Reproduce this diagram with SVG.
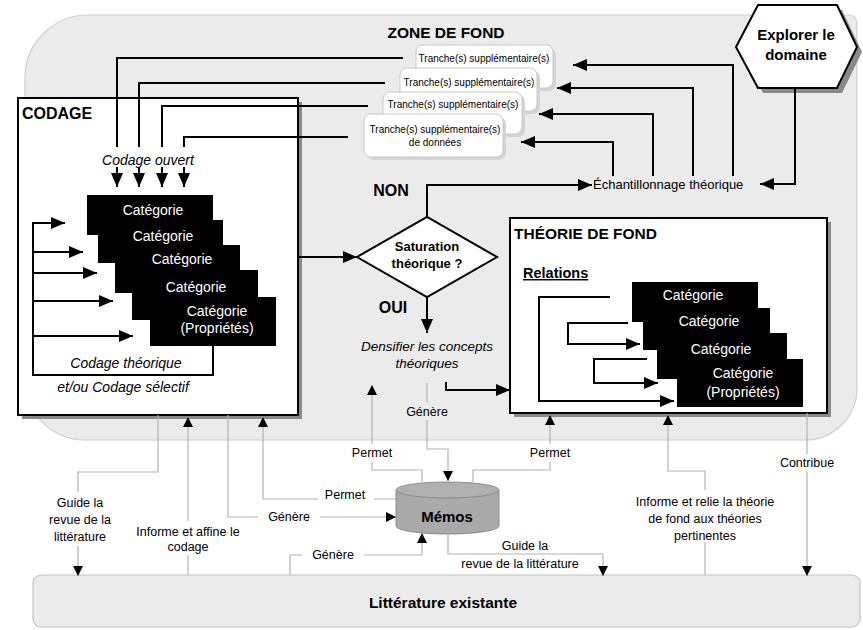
<svg xmlns="http://www.w3.org/2000/svg" width="863" height="630" viewBox="0 0 863 630">
<defs>
<marker id="ah" viewBox="0 0 14 12" refX="14" refY="6" markerWidth="14" markerHeight="12" orient="auto" markerUnits="userSpaceOnUse"><path d="M0,0 L14,6 L0,12 Z" fill="#000"/></marker>
<marker id="as" viewBox="0 0 10 10" refX="10" refY="5" markerWidth="10" markerHeight="10" orient="auto" markerUnits="userSpaceOnUse"><path d="M0,0 L10,5 L0,10 Z" fill="#000"/></marker>
<style>
text{font-family:"Liberation Sans",Arial,sans-serif;fill:#000}
.b{font-weight:bold}
.i{font-style:italic}
.c{text-anchor:middle}
.box{fill:#fff;stroke:#000;stroke-width:2}
.sh{fill:#8a8a8a}
.cat{fill:#000}
.ct{font-size:14px;fill:#fff;text-anchor:middle}
.tr{fill:#fff;stroke:#c8c8c8;stroke-width:1}
.trs{fill:#d4d4d4}
.tt{font-size:10px;text-anchor:middle}
.k{fill:none;stroke:#000;stroke-width:2}
.ka{fill:none;stroke:#000;stroke-width:2;marker-end:url(#ah)}
.g{fill:none;stroke:#b4b4b4;stroke-width:1.2;marker-end:url(#as)}
.gn{fill:none;stroke:#b4b4b4;stroke-width:1.2}
.lb{font-size:12.5px;text-anchor:middle}
.wb{fill:#fff}
.zb{fill:#ebebeb}
</style>
</defs>
<rect width="863" height="630" fill="#fff"/>
<g id="zone">
<path d="M88,15 H848 Q857,15 857,24 V388 A52,52 0 0 1 805,440 H85 A60,60 0 0 1 25,380 V78 A63,63 0 0 1 88,15 Z" fill="#ebebeb" stroke="#cfcfcf" stroke-width="1.2"/>
<text class="b c" x="446" y="38" font-size="15.5">ZONE DE FOND</text>
</g>
<g id="litterature">
<rect x="33" y="575" width="827" height="52" rx="8" fill="#ebebeb" stroke="#c4c4c4" stroke-width="1.2"/>
<text class="b c" x="443" y="608" font-size="15.5">Littérature existante</text>
</g>
<g id="explorer">
<polygon points="741,52 763,10 842,10 862,52 842,93 763,93" class="sh"/>
<polygon points="736,47 758,5 837,5 857,47 837,88 758,88" fill="#fff" stroke="#000" stroke-width="2"/>
<text class="b c" x="796" y="40" font-size="15">Explorer le</text>
<text class="b c" x="796" y="60" font-size="15">domaine</text>
</g>
<g id="tranche1">
<rect x="419" y="48" width="137" height="43" rx="7" class="trs"/>
<rect x="416" y="45" width="137" height="43" rx="7" class="tr"/>
<text class="tt" x="484" y="62">Tranche(s) supplémentaire(s)</text>
</g>
<g id="tranche2">
<rect x="403" y="71" width="137" height="43" rx="7" class="trs"/>
<rect x="400" y="68" width="137" height="43" rx="7" class="tr"/>
<text class="tt" x="469" y="86">Tranche(s) supplémentaire(s)</text>
</g>
<g id="tranche3">
<rect x="386" y="95" width="139" height="42" rx="7" class="trs"/>
<rect x="383" y="92" width="139" height="42" rx="7" class="tr"/>
<text class="tt" x="453" y="108">Tranche(s) supplémentaire(s)</text>
</g>
<g id="tranche4">
<rect x="367" y="117" width="139" height="43" rx="7" class="trs"/>
<rect x="364" y="114" width="139" height="43" rx="7" class="tr"/>
<text class="tt" x="435" y="133">Tranche(s) supplémentaire(s)</text>
<text class="tt" x="435" y="146">de données</text>
</g>
<g id="codage">
<rect x="22" y="102" width="280" height="317" class="sh"/>
<rect x="18" y="98" width="280" height="317" class="box"/>
<text class="b" x="22" y="119" font-size="16">CODAGE</text>
<rect class="cat" x="87" y="195" width="126" height="40"/>
<rect class="cat" x="98" y="220" width="125" height="43"/>
<rect class="cat" x="115" y="245" width="125" height="48"/>
<rect class="cat" x="132" y="270" width="126" height="50"/>
<rect class="cat" x="150" y="297" width="126" height="49"/>
<text class="ct" x="153" y="215">Catégorie</text>
<text class="ct" x="163" y="241">Catégorie</text>
<text class="ct" x="182" y="264">Catégorie</text>
<text class="ct" x="196" y="292">Catégorie</text>
<text class="ct" x="217" y="316">Catégorie</text>
<text class="ct" x="217" y="333">(Propriétés)</text>
</g>
<g id="theorie">
<rect x="514" y="222" width="317" height="195" class="sh"/>
<rect x="510" y="218" width="317" height="195" class="box"/>
<text class="b" x="514" y="239" font-size="15.5">THÉORIE DE FOND</text>
<text class="b" x="523" y="278" font-size="14.5" text-decoration="underline">Relations</text>
<rect class="cat" x="632" y="282" width="126" height="40"/>
<rect class="cat" x="643" y="308" width="127" height="42"/>
<rect class="cat" x="657" y="333" width="130" height="46"/>
<rect class="cat" x="677" y="359" width="126" height="48"/>
<text class="ct" x="693" y="300">Catégorie</text>
<text class="ct" x="709" y="326">Catégorie</text>
<text class="ct" x="721" y="354">Catégorie</text>
<text class="ct" x="743" y="378">Catégorie</text>
<text class="ct" x="743" y="397">(Propriétés)</text>
</g>
<g id="saturation">
<polygon points="357,257 427,217 497,257 427,297" fill="#fff" stroke="#000" stroke-width="2"/>
<text class="b c" x="427" y="251" font-size="13">Saturation</text>
<text class="b c" x="427" y="268" font-size="13">théorique ?</text>
</g>
<g id="echantillonnage">
<text x="593" y="189" font-size="13">Échantillonnage théorique</text>
</g>
<g id="densifier">
<text class="i c" x="427" y="351" font-size="13.5">Densifier les concepts</text>
<text class="i c" x="427" y="368" font-size="13.5">théoriques</text>
</g>
<g id="memos">
<path d="M396,490 V526 A51.5,8 0 0 0 499,526 V490" fill="#a9a9a9" stroke="#8c8c8c" stroke-width="1"/>
<ellipse cx="447.5" cy="490" rx="51.5" ry="8" fill="#b0b0b0" stroke="#8c8c8c" stroke-width="1"/>
<text class="b c" x="447" y="522" font-size="15">Mémos</text>
</g>
<g id="connectors">
<path class="ka" d="M403,58 H117 V187"/>
<path class="ka" d="M385,83 H139 V187"/>
<path class="ka" d="M368,106 H162 V187"/>
<path class="ka" d="M348,137 H184 V187"/>
<path class="ka" d="M213,346 V375 H33 V223 H65"/>
<path class="ka" d="M33,252 H83"/>
<path class="ka" d="M33,273 H97"/>
<path class="ka" d="M33,301 H113"/>
<path class="ka" d="M33,336 H133"/>
<path class="ka" d="M298,257 H357"/>
<path class="ka" d="M427,217 V185 H592"/>
<path class="ka" d="M795,88 V184 H760"/>
<path class="ka" d="M733,176 V65 H573"/>
<path class="ka" d="M693,176 V88 H557"/>
<path class="ka" d="M653,176 V114 H539"/>
<path class="ka" d="M613,176 V142 H521"/>
<path class="ka" d="M427,297 V333"/>
<path class="ka" d="M446,382 V390 H510"/>
<path class="ka" d="M610,297 H539 V401 H674"/>
<path class="ka" d="M628,323 H568 V344 H640"/>
<path class="ka" d="M647,359 H594 V383 H658"/>
<path class="g" d="M427,383 V449 H448 V481"/>
<path class="g" d="M422,482 V470 H372 V385"/>
<path class="g" d="M473,482 V470 H550 V415"/>
<path class="g" d="M396,499 H263 V417"/>
<path class="g" d="M228,415 V517 H396"/>
<path class="g" d="M290,575 V555 H422 V533"/>
<path class="g" d="M188,575 V417"/>
<path class="g" d="M158,415 V472 H78 V576"/>
<path class="g" d="M448,533 V554 H603 V576"/>
<path class="g" d="M705,575 V471 H668 V415"/>
<path class="g" d="M807,413 V576"/>
<rect class="wb" x="100" y="147" width="96" height="20"/>
<text class="i c" x="148" y="165" font-size="14">Codage ouvert</text>
<text class="i c" x="126" y="368" font-size="14">Codage théorique</text>
<text class="i c" x="123" y="392" font-size="14">et/ou Codage sélectif</text>
<text class="b c" x="391" y="196" font-size="16">NON</text>
<text class="b c" x="393" y="313" font-size="16">OUI</text>
<rect class="zb" x="403" y="402" width="48" height="18"/>
<text class="lb" x="427" y="416">Génère</text>
<rect class="wb" x="346" y="444" width="52" height="18"/>
<text class="lb" x="372" y="457">Permet</text>
<rect class="wb" x="524" y="444" width="52" height="18"/>
<text class="lb" x="550" y="457">Permet</text>
<rect class="wb" x="318" y="486" width="56" height="18"/>
<text class="lb" x="345" y="499">Permet</text>
<rect class="wb" x="258" y="508" width="62" height="18"/>
<text class="lb" x="289" y="521">Génère</text>
<rect class="wb" x="302" y="546" width="62" height="18"/>
<text class="lb" x="333" y="559">Génère</text>
<rect class="wb" x="124" y="521" width="128" height="34"/>
<text class="lb" x="188" y="536">Informe et affine le</text>
<text class="lb" x="188" y="551">codage</text>
<rect class="wb" x="44" y="492" width="68" height="54"/>
<text class="lb" x="80" y="507">Guide la</text>
<text class="lb" x="80" y="524">revue de la</text>
<text class="lb" x="80" y="541">littérature</text>
<text class="lb" x="525" y="550">Guide la</text>
<text class="lb" x="520" y="568">revue de la littérature</text>
<rect class="wb" x="624" y="490" width="162" height="52"/>
<text class="lb" x="705" y="506">Informe et relie la théorie</text>
<text class="lb" x="705" y="523">de fond aux théories</text>
<text class="lb" x="705" y="540">pertinentes</text>
<rect class="wb" x="776" y="454" width="62" height="18"/>
<text class="lb" x="807" y="467">Contribue</text>
</g>
</svg>
